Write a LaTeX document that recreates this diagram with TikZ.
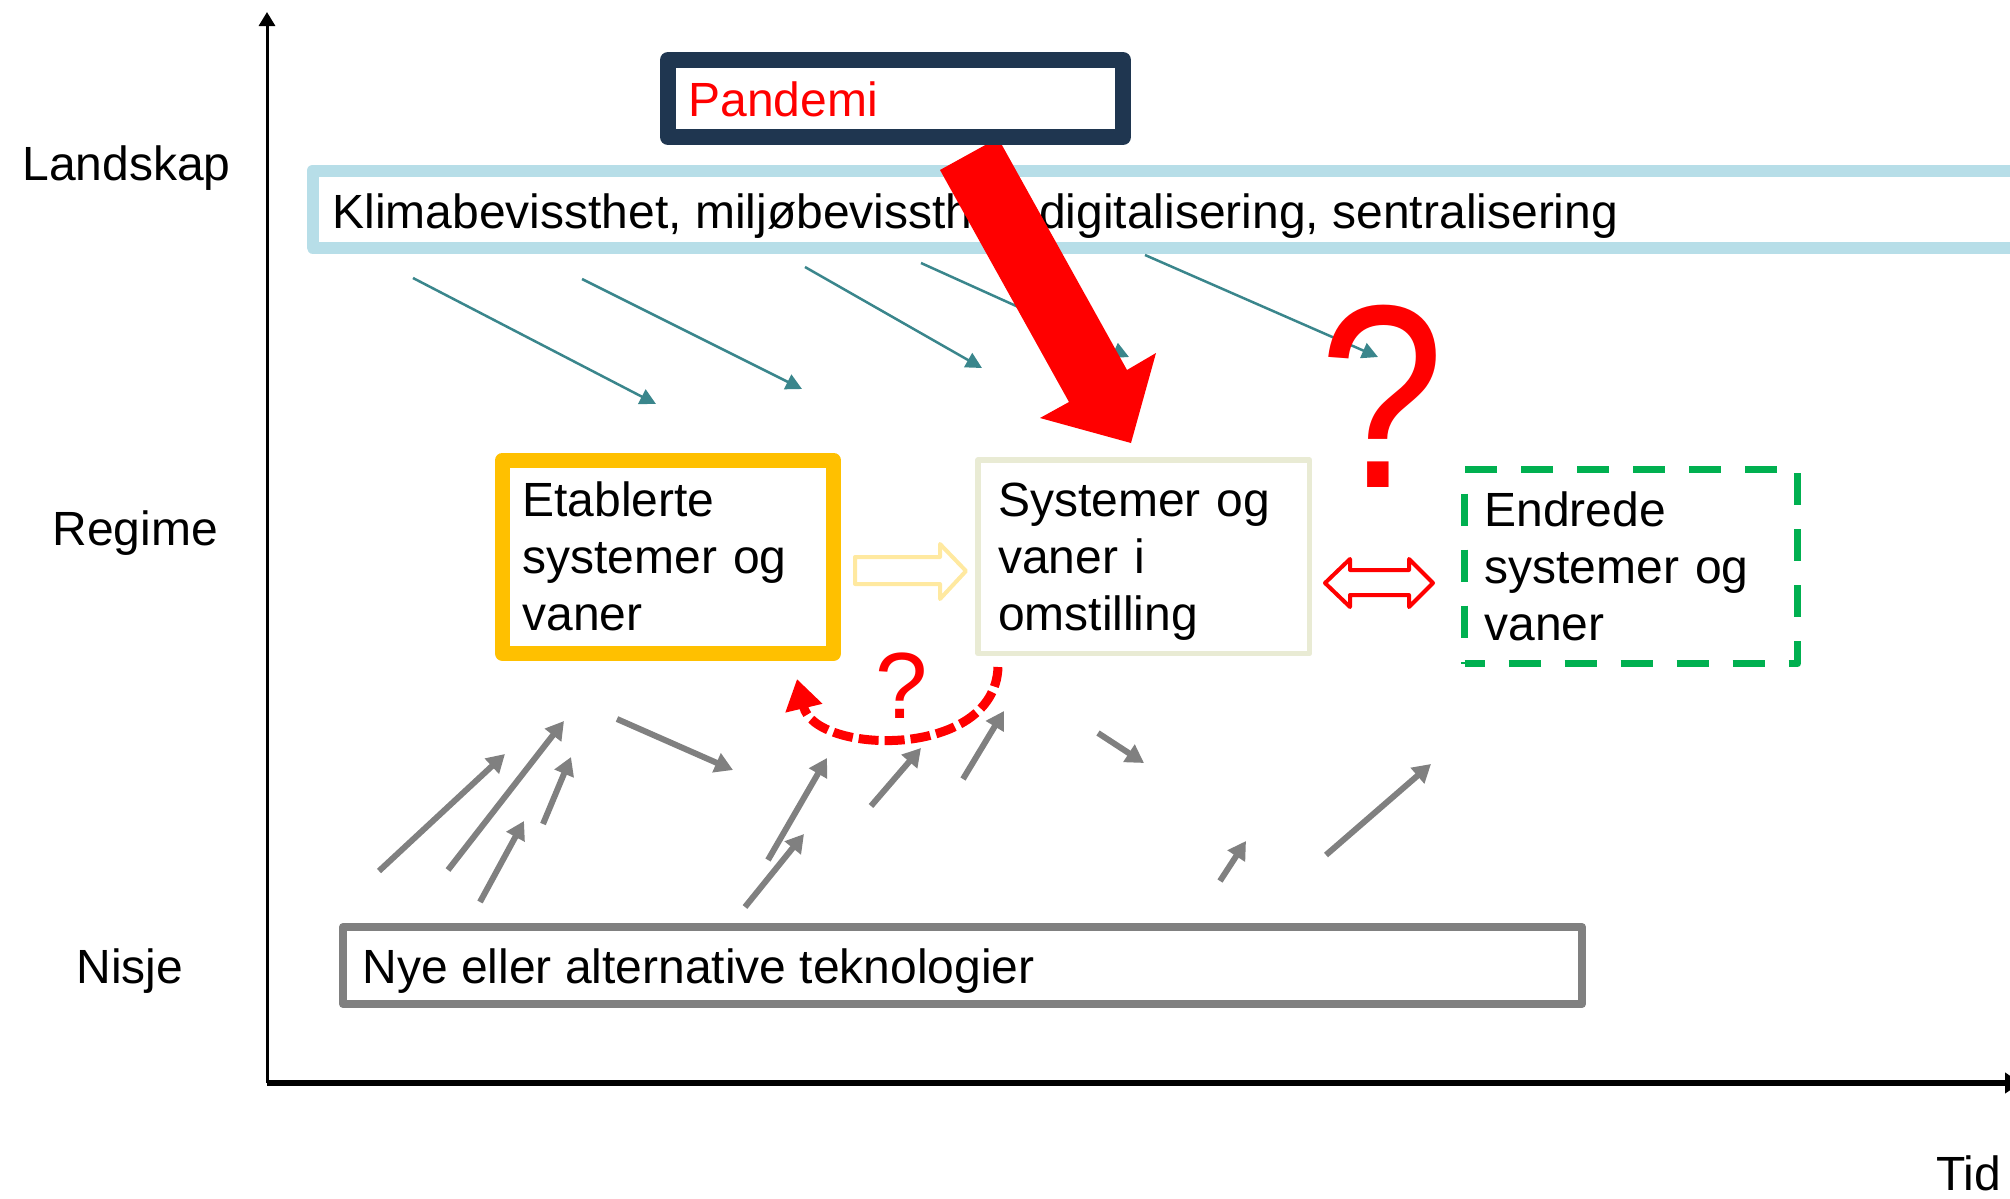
\documentclass[tikz,border=0pt]{standalone}
\usepackage{fontspec}
\setmainfont{Liberation Sans}
\usetikzlibrary{arrows.meta}

\definecolor{navy}{RGB}{31,54,80}
\definecolor{skyline}{RGB}{183,222,232}
\definecolor{amber}{RGB}{255,192,0}
\definecolor{paleolive}{RGB}{233,235,212}
\definecolor{paleyellow}{RGB}{255,233,160}
\definecolor{tealline}{RGB}{58,134,140}
\definecolor{midgray}{RGB}{128,128,128}
\definecolor{leafgreen}{RGB}{0,176,80}

\tikzset{
  lbl/.style={font=\fontsize{24}{28.5}\selectfont, inner sep=0pt, anchor=base west},
  frame/.style={rectangle, outer sep=0pt, anchor=north west, line join=round},
  textframe/.style={frame, inner xsep=10pt, inner ysep=0pt, align=left,
    font=\fontsize{24}{28.5}\selectfont},
  tealarrow/.style={draw=tealline, line width=1.25pt,
    -{Triangle[length=8pt,width=8pt]}},
  grayarrow/.style={draw=midgray, line width=3pt,
    -{Triangle[length=9pt,width=10pt]}},
  axisline/.style={draw=black, line width=#1},
  hollowarrow/.style={fill=white, line width=2pt, line join=round},
}

\begin{document}
\begin{tikzpicture}[x=0.5pt,y=-0.5pt]
\useasboundingbox (0,0) rectangle (2010,1199);

% axes
\coordinate (origin) at (267,1083);
\coordinate (ytop) at (267,12);
\coordinate (xend) at (2021,1083);
\draw[axisline=1.5pt, -{Triangle[length=7pt,width=8pt]}] (origin) -- (ytop);
\draw[axisline=3pt, -{Triangle[length=8pt,width=10pt]}] (origin) -- (xend);
\node[lbl] (tid) at (1936,1190) {Tid};

% level labels
\node[lbl] (landskap) at (22,180) {Landskap};
\node[lbl] (regime) at (52,545) {Regime};
\node[lbl] (nisjelbl) at (76,983) {Nisje};

% landscape band
\node[frame, draw=skyline, line width=6pt, minimum width=870pt, minimum height=38.5pt]
  (land) at (312.5,170.5) {};
\node[lbl] (landtxt) at (332,228)
  {Klimabevissthet, miljøbevissthet, digitalisering, sentralisering};

% landscape pressure arrows
\foreach \i/\xa/\ya/\xb/\yb in {1/413/278/656/404, 2/582/279/802/389,
                                3/805/267/982/368, 4/921/263/1129/357,
                                5/1145/255/1378/357}{
  \coordinate (ls\i) at (\xa,\ya);
  \coordinate (lt\i) at (\xb,\yb);
  \draw[tealarrow] (ls\i) -- (lt\i);
}

% pandemic shock arrow
\fill[red] (940,170) -- (998,138) -- (1127,370) -- (1156,353) -- (1131,443)
  -- (1040,418) -- (1069,402) -- cycle;

% pandemic box
\node[frame, draw=navy, fill=white, line width=8pt, minimum width=227.5pt,
  minimum height=38.5pt] (pand) at (668,60) {};
\node[lbl, text=red] (pandtxt) at (688,116) {Pandemi};

% regime boxes
\node[textframe, draw=amber, line width=7.5pt, minimum width=165.5pt,
  minimum height=96.75pt, text width=145.5pt] (etab) at (502.5,460)
  {Etablerte\\systemer og\\vaner};
\node[textframe, draw=paleolive, line width=2.75pt, minimum width=165.75pt,
  minimum height=96.75pt, text width=145.75pt] (omst) at (978,460)
  {Systemer og\\vaner i\\\raisebox{0pt}[\height][0pt]{omstilling}};
\node[textframe, draw=leafgreen, line width=3.5pt, dash pattern=on 16pt off 12pt,
  dash phase=6pt, minimum width=166.5pt, minimum height=97pt, text width=146.5pt]
  (endr) at (1464.5,469.5) {Endrede\\systemer og\\vaner};

% block arrow from established to transition
\draw[hollowarrow, draw=paleyellow] (855,557) -- (940,557) -- (940,544) -- (966,571)
  -- (940,599) -- (940,584) -- (855,584) -- cycle;

% double block arrow between transition and changed
\draw[hollowarrow, draw=red] (1325,583) -- (1350,559) -- (1350,570) -- (1409,570)
  -- (1409,559) -- (1433,583) -- (1409,607) -- (1409,595) -- (1350,595)
  -- (1350,607) -- cycle;

% question marks
\node[anchor=base, inner sep=0pt, text=red, font=\fontsize{125}{125}\selectfont]
  (qbig) at (1382,487) {\scalebox{0.9}[1.045]{?}};
\node[anchor=base, inner sep=0pt, text=red, font=\fontsize{47}{47}\selectfont]
  (qsmall) at (902,718) {?};

% uncertain feedback arrow
\coordinate (fbstart) at (998,667);
\coordinate (fbend) at (797,679);
\draw[red, line width=4.5pt, dash pattern=on 10pt off 3pt,
  -{Triangle[length=15pt,width=18pt]}]
  (fbstart) .. controls (995,760) and (815,755) .. (fbend);

% niche pressure arrows
\foreach \i/\xa/\ya/\xb/\yb in {1/379/871/505/754, 2/448/870/564/721,
                                3/480/902/524/821, 4/543/824/571/757,
                                5/617/719/733/770, 6/768/860/827/758,
                                7/745/907/804/834, 8/871/806/921/748,
                                9/963/779/1004/711, 10/1098/733/1144/763,
                                11/1220/881/1246/841, 12/1326/855/1431/764}{
  \coordinate (ns\i) at (\xa,\ya);
  \coordinate (nt\i) at (\xb,\yb);
  \draw[grayarrow] (ns\i) -- (nt\i);
}

% niche box
\node[frame, draw=midgray, line width=4pt, minimum width=619.5pt,
  minimum height=38.5pt] (nisje) at (343,927) {};
\node[lbl] (nisjetxt) at (362,983) {Nye eller alternative teknologier};

\end{tikzpicture}
\end{document}
